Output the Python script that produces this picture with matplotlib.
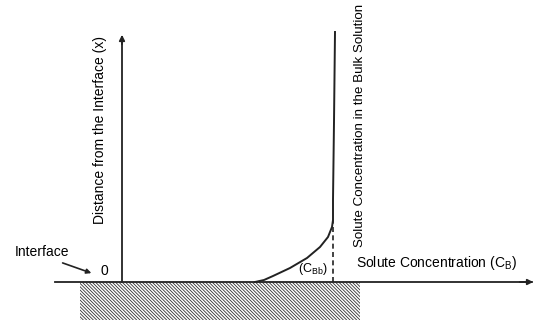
import numpy as np
import matplotlib
matplotlib.use('Agg')
import matplotlib.pyplot as plt
from matplotlib.patches import Rectangle

plt.rcParams['font.family'] = ['Liberation Sans', 'DejaVu Sans']
plt.rcParams['mathtext.fontset'] = 'custom'
plt.rcParams['mathtext.rm'] = 'Liberation Sans'
plt.rcParams['hatch.linewidth'] = 0.6

# concentration profile near the interface (schematic units)
conc = [133, 142, 151, 168, 185, 198, 206, 210, 211, 211, 212, 213]
dist = [0, 2, 6, 14, 24, 35, 45, 55, 62, 82, 160, 250]
c_bulk = 211      # bulk concentration C_Bb
d_bulk = 62       # where the profile reaches bulk value

fig = plt.figure(figsize=(5.38, 3.22), dpi=100)
ax = fig.add_axes([0, 0, 1, 1])
ax.set_xlim(-122, 416)
ax.set_ylim(-40, 282)
ax.axis('off')

# solid wall below the interface
ax.add_patch(Rectangle((-42, -38), 280, 38, facecolor='white',
                       edgecolor='#333333', hatch='\\' * 10, lw=0))

# axes with arrows
ax.plot([-67, 410], [0, 0], color='#222222', lw=1.3)
ax.annotate('', xy=(414, 0), xytext=(395, 0),
            arrowprops=dict(arrowstyle='-|>', color='#222222', lw=1.3,
                            mutation_scale=8))
ax.plot([0, 0], [0, 245], color='#222222', lw=1.3)
ax.annotate('', xy=(0, 250), xytext=(0, 235),
            arrowprops=dict(arrowstyle='-|>', color='#222222', lw=1.3,
                            mutation_scale=8))

# profile
ax.plot(conc, dist, color='#222222', lw=1.4)
ax.plot([c_bulk, c_bulk], [0, d_bulk], color='#222222', lw=1.2, ls=(0, (3, 2)))

# labels
ax.text(-18, 11, '0', fontsize=10, ha='center', va='center')
ax.text(-80, 30, 'Interface', fontsize=10, ha='center', va='center')
ax.annotate('', xy=(-28, 8), xytext=(-62, 20),
            arrowprops=dict(arrowstyle='-|>', color='#222222', lw=1.2,
                            mutation_scale=7))
ax.text(191, 13, r'(C$_\mathregular{Bb}$)', fontsize=9, ha='center', va='center')
ax.text(234, 19, r'Solute Concentration (C$_\mathregular{B}$)', fontsize=10,
        ha='left', va='center')
ax.text(-22, 152, 'Distance from the Interface (x)', fontsize=10,
        rotation=90, ha='center', va='center')
ax.text(238, 157, 'Solute Concentration in the Bulk Solution', fontsize=9.6,
        rotation=90, ha='center', va='center')

plt.savefig('out.png', dpi=100)
